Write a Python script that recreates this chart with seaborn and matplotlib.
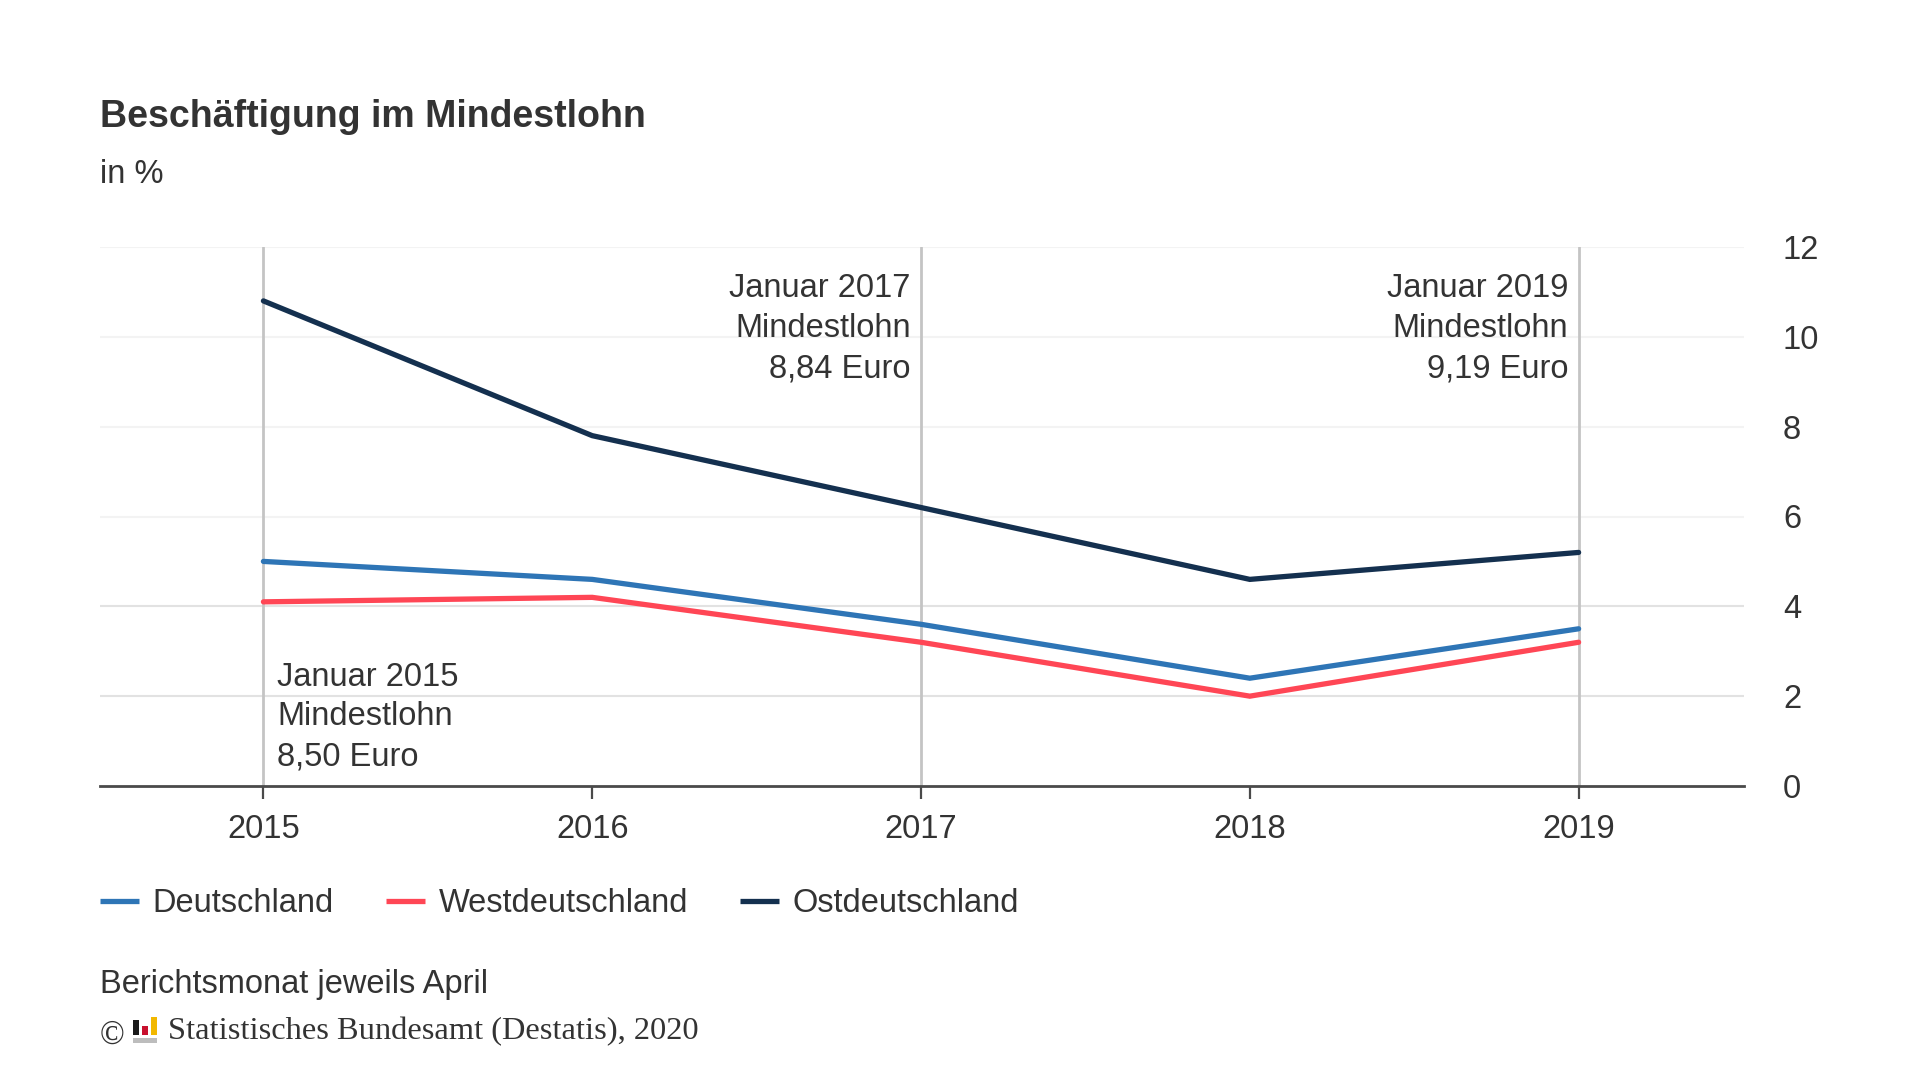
import seaborn as sns
import pandas as pd
import matplotlib.pyplot as plt
from matplotlib.patches import Rectangle

years = [2015, 2016, 2017, 2018, 2019]
deutschland = [5.0, 4.6, 3.6, 2.4, 3.5]
westdeutschland = [4.1, 4.2, 3.2, 2.0, 3.2]
ostdeutschland = [10.8, 7.8, 6.2, 4.6, 5.2]

series_names = ['Deutschland', 'Westdeutschland', 'Ostdeutschland']
series_colors = ['#2e75b6', '#ff4655', '#14304f']
y_ticks = [0, 2, 4, 6, 8, 10, 12]

notes_years = [2015, 2017, 2019]
notes_text = ['Januar 2015\nMindestlohn\n8,50 Euro',
              'Januar 2017\nMindestlohn\n8,84 Euro',
              'Januar 2019\nMindestlohn\n9,19 Euro']

text_color = '#333333'
font_size = 23.5

df = pd.DataFrame({
    'jahr': years * 3,
    'wert': deutschland + westdeutschland + ostdeutschland,
    'gebiet': [n for n in series_names for _ in years],
})

sns.set_style('white')
plt.rcParams['font.family'] = ['Liberation Sans', 'DejaVu Sans']

fig = plt.figure(figsize=(19.2, 10.8), dpi=100)
# axes box in pixels: left 100, right 1744, top 247, bottom 786
ax = fig.add_axes([100 / 1920, 1 - 786 / 1080, 1644 / 1920, 539 / 1080])

# Grid first so the lines sit above it
for t in y_ticks[1:]:
    ax.axhline(t, color='#f3f3f3' if t > 4 else '#e2e2e2', lw=1.5, zorder=0)
for yr in notes_years:
    ax.axvline(yr, color='#c4c4c4', lw=2, zorder=1)

sns.lineplot(data=df, x='jahr', y='wert', hue='gebiet', hue_order=series_names,
             palette=series_colors, linewidth=3.8, ax=ax, zorder=3, legend=False,
             solid_capstyle='round', solid_joinstyle='miter')

ax.set_xlim(2014.503, 2019.503)
ax.set_ylim(0, 12)
ax.set_xticks(years)
ax.set_yticks(y_ticks)
ax.set_xlabel('')
ax.set_ylabel('')
ax.yaxis.tick_right()
ax.tick_params(axis='x', length=9.5, width=1.6, color='#4a4a4a', pad=10.5, labelsize=font_size,
               labelcolor=text_color, bottom=True)
ax.tick_params(axis='y', length=0, pad=28, labelsize=font_size, labelcolor=text_color)
for lab in ax.get_yticklabels():
    lab.set_ha('left')

sns.despine(ax=ax, left=True, right=True, top=True)
ax.spines['bottom'].set_color('#4a4a4a')
ax.spines['bottom'].set_linewidth(2)

# Annotations next to the vertical lines
ax.annotate(notes_text[0], (notes_years[0], 0), xytext=(10, 10), textcoords='offset points',
            ha='left', va='bottom', fontsize=font_size, color=text_color, linespacing=1.36)
ax.annotate(notes_text[1], (notes_years[1], 12), xytext=(-7.5, -19), textcoords='offset points',
            ha='right', va='top', fontsize=font_size, color=text_color, linespacing=1.37)
ax.annotate(notes_text[2], (notes_years[2], 12), xytext=(-7.5, -19), textcoords='offset points',
            ha='right', va='top', fontsize=font_size, color=text_color, linespacing=1.37)

# Title block
fig.text(100 / 1920, 1 - 117 / 1080, 'Beschäftigung im Mindestlohn', fontsize=27,
         fontweight='bold', color=text_color, ha='left', va='center')
fig.text(100 / 1920, 1 - 175 / 1080, 'in %', fontsize=font_size, color=text_color, ha='left', va='center')

# Legend
handles = [plt.Line2D([], [], color=c, lw=3.8, solid_capstyle='butt') for c in series_colors]
fig.legend(handles, series_names, loc='center left', bbox_to_anchor=(100 / 1920, 1 - 904 / 1080),
           ncols=3, frameon=False, fontsize=font_size, labelcolor=text_color, borderaxespad=0,
           borderpad=0, handlelength=1.2, handletextpad=0.41, columnspacing=1.6)

# Footer
fig.text(100 / 1920, 1 - 984 / 1080, 'Berichtsmonat jeweils April', fontsize=font_size,
         color=text_color, ha='left', va='center')
fig.text(100 / 1920, 1 - 1035 / 1080, '©', fontsize=23.5, family='Liberation Serif',
         color=text_color, ha='left', va='center')
fig.text(168 / 1920, 1 - 1032 / 1080, 'Statistisches Bundesamt (Destatis), 2020', fontsize=23.4,
         family='Liberation Serif', color=text_color, ha='left', va='center')

# Destatis logo
logo = [(133, 1020, 6, 15, '#1a1a1a'), (142, 1026, 6, 9, '#c8102e'), (151, 1017, 6, 18, '#f2b800'),
        (133, 1038, 24, 5, '#bdbdbd')]
for x0, y0, w, h, c in logo:
    fig.add_artist(Rectangle((x0 / 1920, 1 - (y0 + h) / 1080), w / 1920, h / 1080,
                             transform=fig.transFigure, color=c, lw=0))

fig.savefig('out.png', dpi=100, facecolor='white')
